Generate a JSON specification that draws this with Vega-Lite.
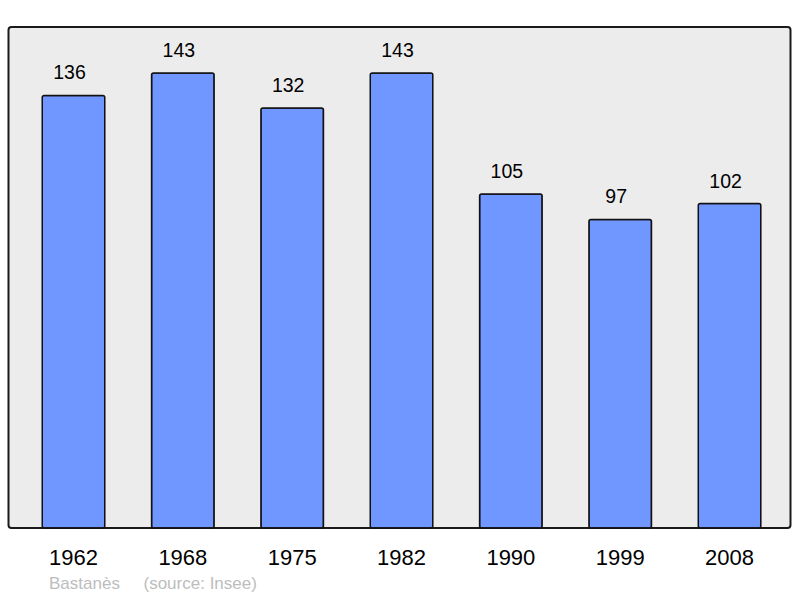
{
  "$schema": "https://vega.github.io/schema/vega-lite/v6.json",
  "width": 782,
  "height": 501,
  "autosize": "none",
  "padding": {"left": 8.5, "top": 27, "right": 9.5, "bottom": 70},
  "background": "white",
  "config": {
    "view": {"fill": "#ececec", "stroke": "#1a1a1a", "strokeWidth": 2, "cornerRadius": 3},
    "font": "Liberation Sans"
  },
  "title": {
    "text": "Bastanès\u00a0\u00a0\u00a0\u00a0 (source: Insee)",
    "orient": "bottom",
    "anchor": "start",
    "frame": "group",
    "dx": 40.5,
    "offset": 8,
    "fontSize": 17,
    "fontWeight": "normal",
    "color": "#bdbdbd",
    "font": "Liberation Sans"
  },
  "data": {
    "values": [
      {"year": "1962", "pop": 136},
      {"year": "1968", "pop": 143},
      {"year": "1975", "pop": 132},
      {"year": "1982", "pop": 143},
      {"year": "1990", "pop": 105},
      {"year": "1999", "pop": 97},
      {"year": "2008", "pop": 102}
    ]
  },
  "encoding": {
    "x": {
      "field": "year",
      "type": "nominal",
      "sort": null,
      "scale": {"paddingInner": 0.428, "paddingOuter": 0.29, "align": 0.532},
      "axis": {
        "title": null,
        "labelAngle": 0,
        "labelFontSize": 22,
        "labelColor": "#000000",
        "labelFont": "Liberation Sans",
        "labelBaseline": "alphabetic",
        "labelPadding": 36,
        "ticks": false,
        "domain": false,
        "grid": false
      }
    },
    "y": {
      "field": "pop",
      "type": "quantitative",
      "scale": {"domain": [0, 157.5], "nice": false, "zero": true},
      "axis": null
    }
  },
  "layer": [
    {
      "mark": {"type": "bar", "color": "#7097ff", "stroke": "#111111", "strokeWidth": 1.5, "cornerRadius": 2}
    },
    {
      "mark": {"type": "text", "baseline": "alphabetic", "dx": -4, "dy": -16, "fontSize": 19.5, "color": "#000000", "font": "Liberation Sans"},
      "encoding": {"text": {"field": "pop", "type": "quantitative"}}
    }
  ]
}
